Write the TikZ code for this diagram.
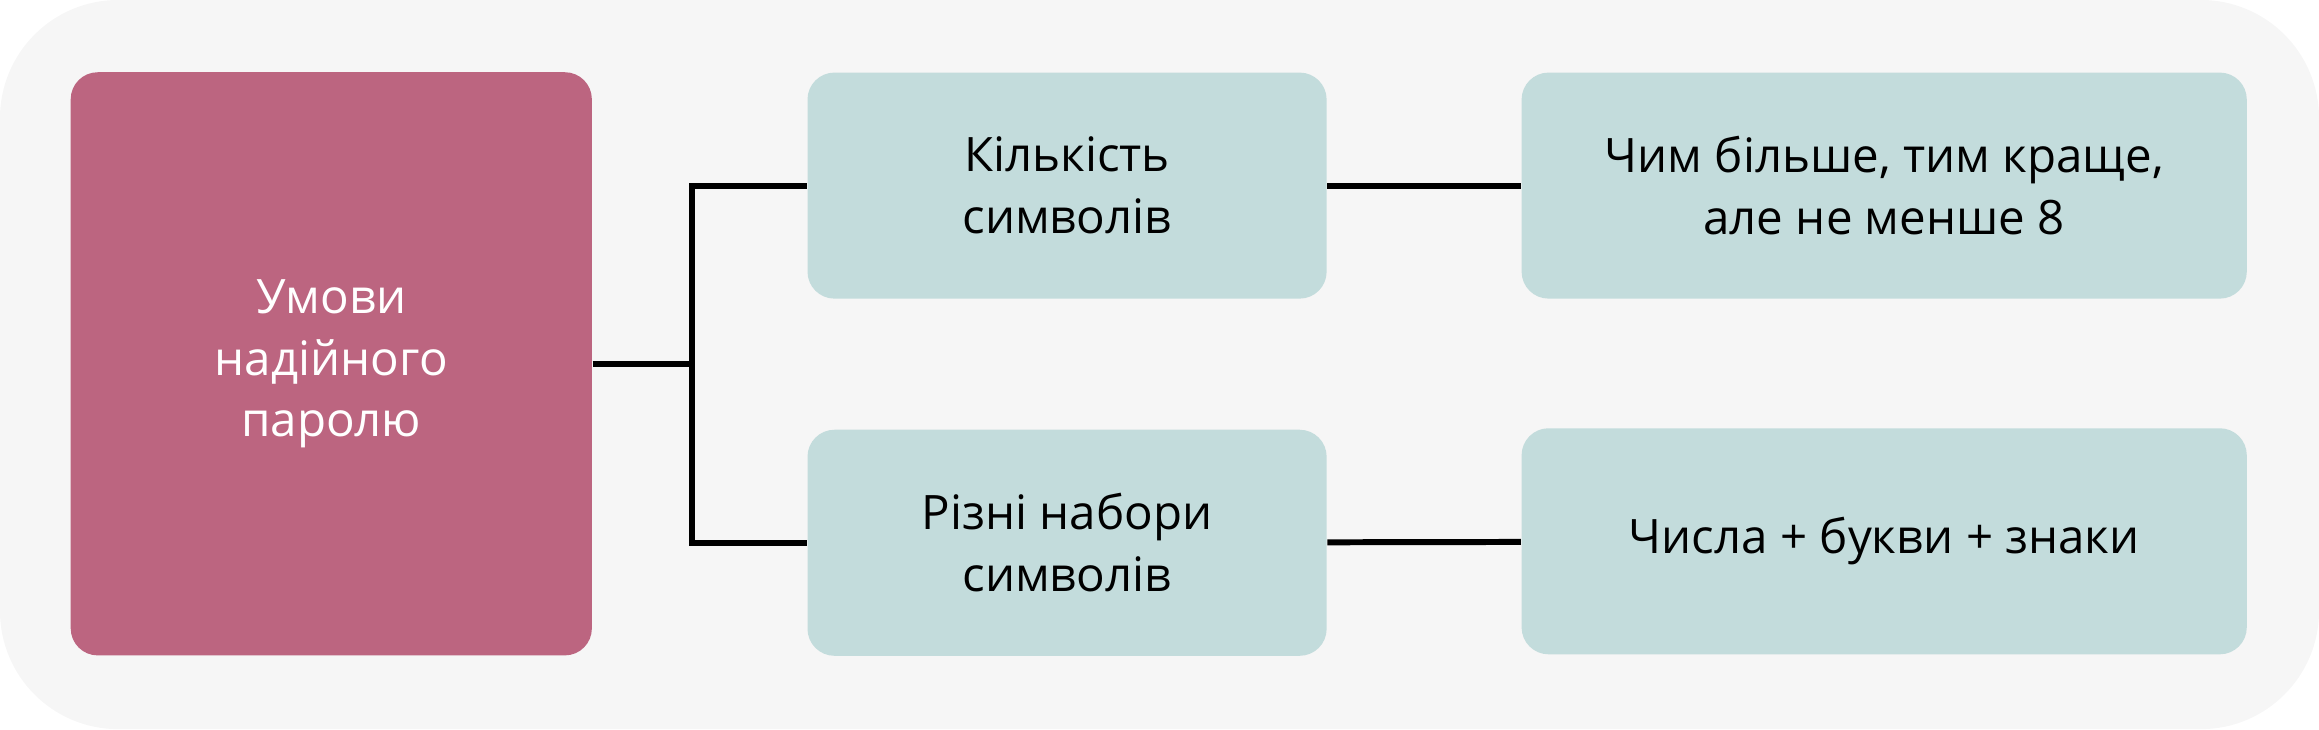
\documentclass[tikz,border=0pt]{standalone}
\usepackage{fontspec}
\setmainfont{Open Sans}
\usetikzlibrary{positioning}
\definecolor{bgray}{HTML}{F6F6F6}
\definecolor{rose}{HTML}{BC6580}
\definecolor{mint}{HTML}{C3DCDC}
\tikzset{
  box/.style={rounded corners=0.27cm, align=center, inner sep=0pt,
    font=\fontsize{13.5}{17.6}\selectfont},
  tip/.style={box, fill=mint, minimum width=5.19cm, minimum height=2.26cm},
  wide/.style={tip, minimum width=7.25cm},
  link/.style={line width=1.7pt, black}
}
\begin{document}
\begin{tikzpicture}[x=0.01479cm,y=-0.01479cm]
    \useasboundingbox (0,0) rectangle (1568,493);
    \fill[bgray, rounded corners=1.18cm] (0,0) rectangle (1568,493);

\node[box, fill=rose, text=white, minimum width=5.21cm, minimum height=5.83cm] (cond) at (224,246) {Умови\\надійного\\паролю};

\node[tip] (count) at (721.5,125.5) {Кількість\\символів};
\node[tip] (sets) at (721.5,367) {Різні набори\\символів};
\node[wide] (more) at (1274,125.5) {Чим більше, тим краще,\\але не менше 8};
\node[wide] (mix) at (1274,366) {Числа + букви + знаки};

\coordinate (fork) at (468,246);
\draw[link] (cond.east) -- (fork);
\draw[link] (count.west) -| (fork) |- (sets.west);
\draw[link] (count) -- (more);
\draw[link] (sets) -- (mix);

\end{tikzpicture}
\end{document}
